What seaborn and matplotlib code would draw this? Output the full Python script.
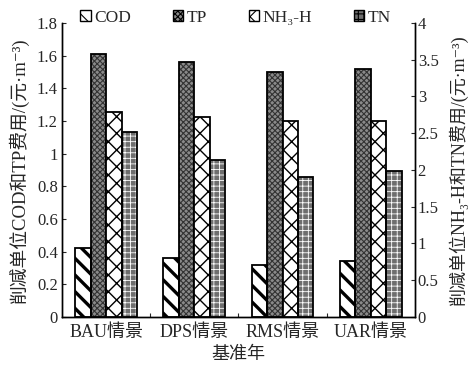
import numpy as np
import matplotlib.pyplot as plt
import seaborn as sns
import pandas as pd
from matplotlib.patches import Patch, Rectangle
from matplotlib.colors import to_rgb

# Werte
szenarien = ["BAU情景", "DPS情景", "RMS情景", "UAR情景"]
reihen = ["COD", "TP", "NH3-H", "TN"]
legende = ["COD", "TP", "NH₃-H", "TN"]
cod = [0.42, 0.36, 0.32, 0.34]
tp = [1.61, 1.56, 1.50, 1.52]
nh3 = [2.79, 2.72, 2.66, 2.67]
tn = [2.52, 2.13, 1.90, 1.99]

sns.set_style("ticks")
plt.rcParams["font.family"] = ["Liberation Serif", "DejaVu Serif", "Noto Sans CJK SC"]
plt.rcParams["hatch.linewidth"] = 0.8

df = pd.DataFrame({
    "szenario": szenarien * 4,
    "reihe": np.repeat(reihen, 4),
    "wert": cod + tp + nh3 + tn,
})
links = df.copy()
links.loc[links["reihe"].isin(["NH3-H", "TN"]), "wert"] = np.nan
rechts = df.copy()
rechts.loc[rechts["reihe"].isin(["COD", "TP"]), "wert"] = np.nan

farben = {"COD": "#ff0000", "TP": "#00ff00", "NH3-H": "#0000ff", "TN": "#ffff00"}
stil = {
    "COD": dict(fc="white", hatch="\\\\", hc="black", hlw=2.4),
    "TP": dict(fc="#8a8a8a", hatch="xxxxxx", hc="#333333", hlw=0.8),
    "NH3-H": dict(fc="white", hatch="xx", hc="black", hlw=1.0),
    "TN": dict(fc="#6e6e6e", hatch="+++", hc="white", hlw=0.6),
}

fig = plt.figure(figsize=(4.71, 3.69), dpi=100)
ax = fig.add_axes([0.1316, 0.141, 0.7494, 0.7967])
ax2 = ax.twinx()

sns.barplot(data=links, x="szenario", y="wert", hue="reihe", hue_order=reihen,
            palette=farben, saturation=1, width=0.70, ax=ax, legend=False, errorbar=None)
sns.barplot(data=rechts, x="szenario", y="wert", hue="reihe", hue_order=reihen,
            palette=farben, saturation=1, width=0.70, ax=ax2, legend=False, errorbar=None)


def stil_setzen(achse):
    for p in list(achse.patches):
        fc = p.get_facecolor()
        name = None
        for k, v in farben.items():
            if np.allclose(fc[:3], to_rgb(v), atol=0.05):
                name = k
        if name is None:
            continue
        s = stil[name]
        p.set_facecolor(s["fc"])
        p.set_edgecolor(s["hc"])
        p.set_hatch(s["hatch"])
        if hasattr(p, "set_hatch_linewidth"):
            p.set_hatch_linewidth(s["hlw"])
        p.set_linewidth(0)
        # schwarzer Rahmen
        achse.add_patch(Rectangle((p.get_x(), p.get_y()), p.get_width(), p.get_height(),
                                  fill=False, edgecolor="black", linewidth=1.3, zorder=p.get_zorder() + 0.1))


stil_setzen(ax)
stil_setzen(ax2)

ax.set_ylim(0, 1.8)
ax.set_yticks(np.arange(0, 1.81, 0.2))
ax.set_yticklabels([f"{v:.1f}".rstrip("0").rstrip(".") for v in np.arange(0, 1.81, 0.2)])
ax2.set_ylim(0, 4)
ax2.set_yticks(np.arange(0, 4.01, 0.5))
ax2.set_yticklabels([f"{v:g}" for v in np.arange(0, 4.01, 0.5)])
ax.set_xlim(-0.5, 3.5)
ax.set_xticks([0.5, 1.5, 2.5], minor=True)
ax.set_xticks(range(4))
ax.set_xticklabels(szenarien)
ax.tick_params(axis="x", which="major", length=0, labelsize=13, pad=5)
ax.tick_params(axis="x", which="minor", length=3, direction="in", width=0.8)
ax.tick_params(axis="y", direction="in", length=3, labelsize=12, pad=3)
ax2.tick_params(axis="y", direction="in", length=3, labelsize=12, pad=2)

for a in (ax, ax2):
    for sp in a.spines.values():
        sp.set_linewidth(1.0)
        sp.set_color("black")
ax.spines["top"].set_visible(False)
ax2.spines["top"].set_visible(False)

ax.set_xlabel("基准年", fontsize=13, labelpad=4)
ax.set_ylabel("削减单位COD和TP费用/(元·m⁻³)", fontsize=13.5, labelpad=6)
ax2.set_ylabel("削减单位NH₃-H和TN费用/(元·m⁻³)", fontsize=13, labelpad=7)

griffe = [Patch(facecolor=stil[r]["fc"], hatch=stil[r]["hatch"], edgecolor="black", linewidth=1.0)
          for r in reihen]
fig.legend(griffe, legende, loc="upper center", bbox_to_anchor=(0.5, 1.015), ncol=4,
           frameon=False, fontsize=12.5, handlelength=0.6, handleheight=0.6,
           handletextpad=0.2, columnspacing=2.4)

fig.savefig("out.png", dpi=100)
